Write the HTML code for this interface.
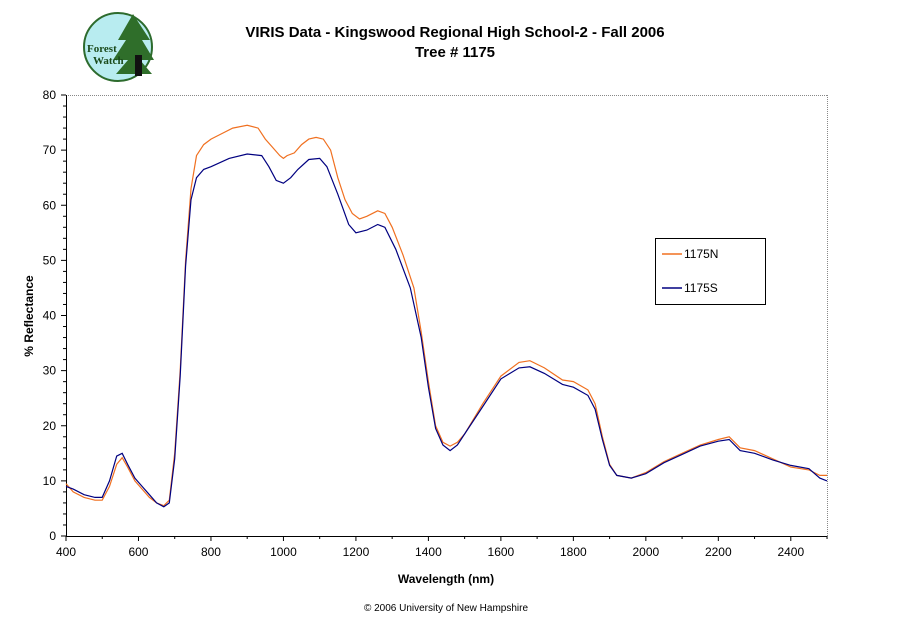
<!DOCTYPE html>
<html><head><meta charset="utf-8"><style>
body{margin:0;background:#fff;}
svg text{font-family:"Liberation Sans",Arial,sans-serif;}
</style></head><body>
<svg id="s" width="911" height="623" xmlns="http://www.w3.org/2000/svg">
<rect width="911" height="623" fill="#fff"/>
<!-- logo -->
<circle cx="118" cy="47" r="34" fill="#b8ecf0" stroke="#2d6b2d" stroke-width="2"/>
<polygon points="133,14 118,40 126,40 113,60 128,60 116,74 152,74 140,60 154,60 142,40 150,40" fill="#2f6e2a"/>
<rect x="135" y="55" width="7" height="21" fill="#111"/>
<text x="87" y="52" font-size="11" font-family="Liberation Serif" fill="#1a4a1a" style="font-family:'Liberation Serif',serif" font-weight="bold">Forest</text>
<text x="93" y="64" font-size="11" fill="#1a4a1a" style="font-family:'Liberation Serif',serif" font-weight="bold">Watch</text>
<text x="455" y="37" font-size="15" font-weight="bold" text-anchor="middle">VIRIS Data - Kingswood Regional High School-2 - Fall 2006</text>
<text x="455" y="57" font-size="15" font-weight="bold" text-anchor="middle">Tree # 1175</text>
<line x1="66" y1="95.5" x2="827" y2="95.5" stroke="#888" stroke-dasharray="1,1"/>
<line x1="827.5" y1="95" x2="827.5" y2="536" stroke="#888" stroke-dasharray="1,1"/>
<line x1="66.5" y1="95" x2="66.5" y2="536.5" stroke="#000"/>
<line x1="66" y1="536.5" x2="827" y2="536.5" stroke="#000"/>
<g id="ax"></g>
<text transform="translate(33,316) rotate(-90)" font-size="12" font-weight="bold" text-anchor="middle">% Reflectance</text>
<text x="446" y="583" font-size="12" font-weight="bold" text-anchor="middle">Wavelength (nm)</text>
<text x="446" y="611" font-size="10" text-anchor="middle">© 2006 University of New Hampshire</text>
<rect x="655.5" y="238.5" width="110" height="66" fill="#fff" stroke="#000"/>
<line x1="662" y1="254" x2="682" y2="254" stroke="#f07020" stroke-width="1.5"/>
<text x="684" y="258" font-size="12">1175N</text>
<line x1="662" y1="288" x2="682" y2="288" stroke="#000080" stroke-width="1.5"/>
<text x="684" y="292" font-size="12">1175S</text>
<polyline id="n" fill="none" stroke="#f07020" stroke-width="1.2"/>
<polyline id="sc" fill="none" stroke="#000080" stroke-width="1.2"/>
</svg>
<script>
const X=w=>66+(w-400)*0.3624, Y=v=>536-v*5.5125;
let ax='';
for(let v=0;v<=80;v+=2){const y=Y(v);ax+=`<line x1="${v%10?63:61}" y1="${y}" x2="66" y2="${y}" stroke="#000"/>`;if(v%10==0)ax+=`<text x="56" y="${y+4}" font-size="12" text-anchor="end">${v}</text>`;}
for(let w=400;w<=2500;w+=100){const x=X(w);ax+=`<line x1="${x}" y1="536" x2="${x}" y2="${w%200?539:541}" stroke="#000"/>`;if(w%200==0)ax+=`<text x="${x}" y="556" font-size="12" text-anchor="middle">${w}</text>`;}
document.getElementById('ax').innerHTML=ax;
const N=[[400,9.5],[420,8],[450,7],[480,6.5],[500,6.5],[520,9],[540,13],[555,14.2],[570,12.5],[590,10],[610,8.5],[630,7],[650,6],[670,5.5],[685,6.5],[700,15],[715,30],[730,50],[745,63],[760,69],[780,71],[800,72],[830,73],[860,74],[900,74.5],[930,74],[950,72],[970,70.5],[990,69],[1000,68.5],[1010,69],[1030,69.5],[1050,71],[1070,72],[1090,72.3],[1110,72],[1130,70],[1150,65],[1170,61],[1190,58.5],[1210,57.5],[1230,58],[1260,59],[1280,58.5],[1300,56],[1330,51],[1360,45],[1380,37],[1400,28],[1420,20],[1440,17],[1460,16.3],[1480,17],[1500,18.5],[1550,24],[1600,29],[1650,31.5],[1680,31.8],[1720,30.5],[1770,28.3],[1800,28],[1840,26.5],[1860,24],[1880,18],[1900,13],[1920,11],[1960,10.5],[2000,11.5],[2050,13.5],[2100,15],[2150,16.5],[2200,17.5],[2230,18],[2260,16],[2300,15.5],[2350,14],[2400,12.5],[2450,12],[2480,11],[2500,11]];
const S=[[400,9],[420,8.5],[450,7.5],[480,7],[500,7],[520,10],[540,14.5],[555,15],[570,13],[590,10.5],[610,9],[630,7.5],[650,6],[670,5.3],[685,6],[700,14],[715,29],[730,49],[745,61],[760,65],[780,66.5],[800,67],[850,68.5],[900,69.3],[940,69],[960,67],[980,64.5],[1000,64],[1020,65],[1040,66.5],[1070,68.3],[1100,68.5],[1120,67],[1150,62],[1180,56.5],[1200,55],[1230,55.5],[1260,56.5],[1280,56],[1310,52],[1350,45],[1380,36],[1400,27],[1420,19.5],[1440,16.5],[1460,15.5],[1480,16.5],[1500,18.5],[1550,23.5],[1600,28.5],[1650,30.5],[1680,30.7],[1720,29.5],[1770,27.5],[1800,27],[1840,25.5],[1860,23],[1880,17.5],[1900,12.8],[1920,11],[1960,10.5],[2000,11.3],[2050,13.3],[2100,14.8],[2150,16.3],[2200,17.2],[2230,17.5],[2260,15.5],[2300,15],[2350,13.8],[2400,12.8],[2450,12.2],[2480,10.5],[2500,10]];
const p=a=>a.map(([w,v])=>X(w).toFixed(1)+','+Y(v).toFixed(1)).join(' ');
document.getElementById('n').setAttribute('points',p(N));
document.getElementById('sc').setAttribute('points',p(S));
</script>
</body></html>
